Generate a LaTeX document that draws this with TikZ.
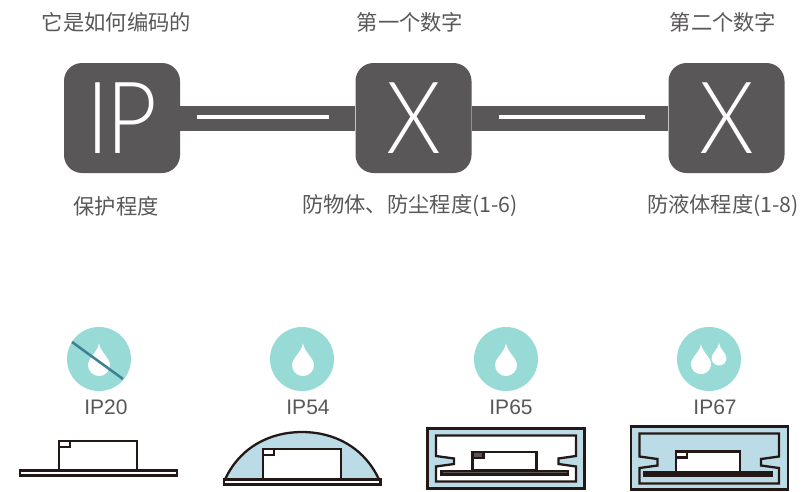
\documentclass[tikz,border=0pt]{standalone}
\usepackage{fontspec}
\setmainfont{Liberation Sans}
\newfontfamily\cjk{Noto Sans CJK SC}
\newfontfamily\thinfont{Lato Light}
\definecolor{slate}{RGB}{89,87,87}
\definecolor{aqua}{RGB}{152,218,213}
\definecolor{pale}{RGB}{187,220,230}
\definecolor{ink}{RGB}{35,24,21}
\definecolor{slash}{RGB}{63,127,146}
\tikzset{
  codebox/.style={fill=slate,rounded corners=18pt,minimum width=116pt,minimum height=110pt,inner sep=0pt,text=white,font=\thinfont\fontsize{100}{100}\selectfont},
  caption/.style={text=slate,inner sep=0pt,font=\cjk\fontsize{21.3}{24}\selectfont},
  iplabel/.style={text=slate,inner sep=0pt,font=\fontsize{21}{24}\selectfont},
  dropdisc/.style={circle,fill=aqua,minimum size=64pt,inner sep=0pt},
  bar/.style={slate,line width=25pt},
  slit/.style={white,line width=4.5pt},
  case/.style={ink,line width=2.3pt},
  drop/.pic={\fill[white] (0,-22) .. controls (1,-13) and (11,-7) .. (11,0) arc (0:180:11) .. controls (-11,-7) and (-1,-13) .. (0,-22) -- cycle;}
}
\newcommand{\chipbox}[5]{
  \draw[case,fill=white] (#1,#2) rectangle (#3,#4);
  \draw[case,fill=#5] (#1,#2) rectangle (#1+11,#2+6);
}
\begin{document}
\begin{tikzpicture}[x=1pt,y=-1pt]
\useasboundingbox (0,0) rectangle (810,491);

\node[codebox] (ipbox) at (122,118) {\scalebox{.88}[1]{I\kern-3pt P}};
\node[codebox] (firstbox) at (413.5,118) {\scalebox{.88}[1]{X}};
\node[codebox] (secondbox) at (726.5,118) {\scalebox{.88}[1]{X}};
\draw[bar] (ipbox.east) -- (firstbox.west);
\draw[bar] (firstbox.east) -- (secondbox.west);
\coordinate (slita) at (197,117);
\coordinate (slitb) at (329,117);
\coordinate (slitc) at (499,117);
\coordinate (slitd) at (645,117);
\draw[slit] (slita) -- (slitb);
\draw[slit] (slitc) -- (slitd);

\node[caption] (howcode) at (116.5,22) {它是如何编码的};
\node[caption] (firstdigit) at (410,22) {第一个数字};
\node[caption] (seconddigit) at (723,22) {第二个数字};
\node[caption] (protect) at (116,206) {保护程度};
\node[caption] (dust) at (410,206) {防物体、防尘程度(1-6)};
\node[caption] (liquid) at (723,206) {防液体程度(1-8)};

\node[dropdisc] (disca) at (99,359) {};
\node[dropdisc] (discb) at (302,359) {};
\node[dropdisc] (discc) at (506,359) {};
\node[dropdisc] (discd) at (709,359) {};
\pic at (99,365) {drop};
\pic at (303,365) {drop};
\pic at (506,365) {drop};
\pic[scale=0.92] at (701,364) {drop};
\pic[scale=0.68] at (719,358) {drop};
\draw[slash,line width=2.5pt] (72,342) -- (123,379);

\node[iplabel] (ipa) at (106,407) {IP20};
\node[iplabel] (ipb) at (308,407) {IP54};
\node[iplabel] (ipc) at (511,407) {IP65};
\node[iplabel] (ipd) at (715,407) {IP67};

\draw[case,fill=white] (20,470.5) rectangle (177,475.5);
\chipbox{59}{441}{137}{470.5}{white}

\draw[case,fill=pale] (225,479.5) .. controls (240,447) and (270,432) .. (302,432) .. controls (334,432) and (364,447) .. (379,479.5) -- cycle;
\draw[case,fill=white] (224,479.5) rectangle (380.5,484.5);
\chipbox{263}{449}{341}{479.5}{white}

\draw[case,fill=pale] (427.5,428.5) rectangle (584.5,488.5);
\draw[case,fill=white] (436,435.5) -- (576,435.5) -- (576,456) -- (558.5,458.5) -- (558.5,464) -- (576,466.5) -- (576,481.5) -- (436,481.5) -- (436,466.5) -- (454,464) -- (454,458.5) -- (436,456) -- cycle;
\draw[case,fill=slate] (441.5,471) rectangle (568,474.5);
\chipbox{472.5}{452}{536.5}{470.5}{slate}

\draw[case,fill=pale] (631,426.5) rectangle (788,489.5);
\draw[case,fill=pale] (639.5,433.5) -- (779,433.5) -- (779,456.5) -- (761,459) -- (761,465.5) -- (779,468) -- (779,483.5) -- (639.5,483.5) -- (639.5,468) -- (657.5,465.5) -- (657.5,459) -- (639.5,456.5) -- cycle;
\draw[case,fill=slate] (644.5,472.5) rectangle (771.5,475.5);
\chipbox{676}{451.5}{740}{472}{white}
\end{tikzpicture}
\end{document}
